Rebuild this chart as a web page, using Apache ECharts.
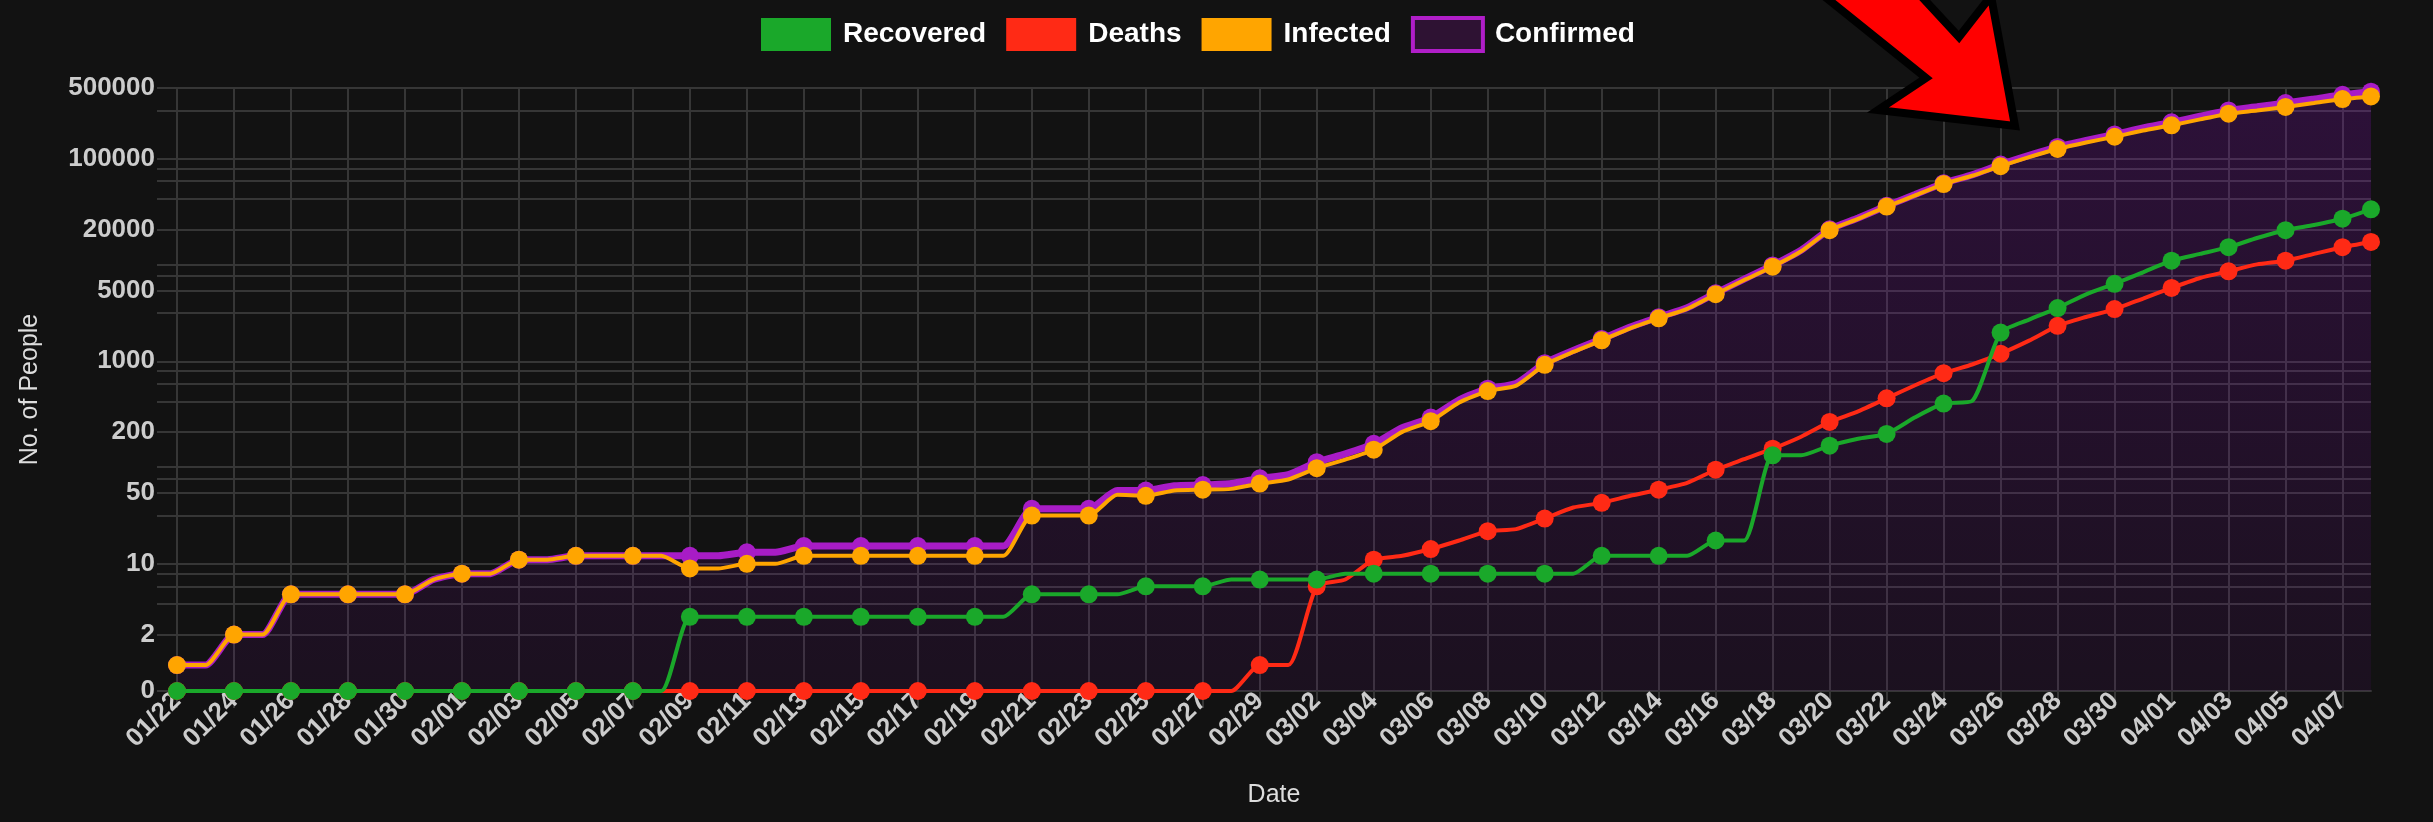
<!DOCTYPE html>
<html><head><meta charset="utf-8">
<script src="https://cdn.jsdelivr.net/npm/echarts@6/dist/echarts.min.js"></script>
<style>html,body{margin:0;padding:0;background:#121212;overflow:hidden}#c{width:2433px;height:822px}</style>
</head><body><div id="c"></div>
<script>
const dates = ['01/22','01/23','01/24','01/25','01/26','01/27','01/28','01/29','01/30','01/31',
'02/01','02/02','02/03','02/04','02/05','02/06','02/07','02/08','02/09','02/10','02/11','02/12','02/13','02/14','02/15','02/16','02/17','02/18','02/19','02/20','02/21','02/22','02/23','02/24','02/25','02/26','02/27','02/28','02/29',
'03/01','03/02','03/03','03/04','03/05','03/06','03/07','03/08','03/09','03/10','03/11','03/12','03/13','03/14','03/15','03/16','03/17','03/18','03/19','03/20','03/21','03/22','03/23','03/24','03/25','03/26','03/27','03/28','03/29','03/30','03/31',
'04/01','04/02','04/03','04/04','04/05','04/06','04/07','04/08'];

const recovered = [0,0,0,0,0,0,0,0,0,0,
0,0,0,0,0,0,0,0,3,3,3,3,3,3,3,3,3,3,3,3,5,5,5,5,6,6,6,7,7,
7,7,8,8,8,8,8,8,8,8,8,12,12,12,12,17,17,118,118,147,172,192,280,383,406,1920,2580,3360,4590,5830,7570,
9860,11500,13400,16500,19700,22200,25600,31700];

const deaths = [0,0,0,0,0,0,0,0,0,0,
0,0,0,0,0,0,0,0,0,0,0,0,0,0,0,0,0,0,0,0,0,0,0,0,0,0,0,0,1,
1,6,7,11,12,14,17,21,22,28,36,40,47,54,63,85,108,137,180,252,320,431,580,764,930,1190,1600,2240,2740,3280,4170,
5300,6650,7740,9060,9860,11500,13400,15100];

const infected = [1,1,2,2,5,5,5,5,5,7,
8,8,11,11,12,12,12,12,9,9,10,10,12,12,12,12,12,12,12,12,30,30,30,48,47,53,54,55,62,
68,88,107,134,201,256,392,508,575,923,1237,1611,2120,2661,3300,4600,6350,8600,12200,19700,25500,33700,43500,56300,68000,84500,104000,125000,145000,165000,190000,
214000,245000,279000,300000,325000,355000,389000,413000];

const confirmed = [1,1,2,2,5,5,5,5,5,7,
8,8,11,11,12,12,12,12,12,12,13,13,15,15,15,15,15,15,15,15,35,35,35,53,53,59,60,62,70,
76,101,122,153,221,278,417,537,605,959,1281,1663,2179,2727,3380,4700,6480,8850,12500,20100,26000,34300,44400,57400,69300,87600,108000,131000,152000,174000,202000,
229000,263000,300000,326000,355000,389000,428000,460000];

const yLabelTicks = [0, 2, 10, 50, 200, 1000, 5000, 20000, 100000, 500000];
const yGridTicks = [0, 2, 4, 6, 8, 10, 30, 50, 70, 90, 200, 400, 600, 800, 1000, 3000, 5000, 7000, 9000, 20000, 40000, 60000, 80000, 100000, 300000, 500000];

const ZERO_AT = 0.555;   // where the value 0 sits on the log axis (bottom edge)
const Y_MAX = 500000;
const toAxis = v => (v <= 0 ? ZERO_AT : v);
const tickToAxis = t => (t === 0 ? ZERO_AT * 1.0001 : (t >= Y_MAX ? Y_MAX * 0.9999999 : t));
const fmtTick = v => (v < 1 ? '0' : String(Number(v.toPrecision(3))));

const last = dates.length - 1;
const dotSize = (v, p) => (p.dataIndex % 2 === 0 || p.dataIndex === last) ? 18 : 0;

const GRID = '#363636';
const chart = echarts.init(document.getElementById('c'), null, {renderer: 'canvas'});

function lineSeries(name, data, color, z, width) {
  return {
    name, type: 'line', data: data.map(toAxis), z,
    smooth: 0.2, clip: false,
    symbol: 'circle', symbolSize: dotSize, showAllSymbol: true,
    lineStyle: {color, width: width || 4},
    itemStyle: {color}
  };
}

const confirmedSeries = lineSeries('Confirmed', confirmed, '#a81cc6', 2, 7);
confirmedSeries.areaStyle = {
  origin: 'start',
  color: new echarts.graphic.LinearGradient(0, 0, 0, 1, [
    {offset: 0, color: 'rgba(150,12,210,0.29)'},
    {offset: 1, color: 'rgba(140,0,190,0.11)'}
  ])
};

chart.setOption({
  backgroundColor: '#121212',
  animation: false,
  textStyle: {fontFamily: 'Liberation Sans, Arial, sans-serif'},
  legend: {
    left: 756, top: 11,
    itemWidth: 70, itemHeight: 33, itemGap: 20,
    icon: 'rect',
    textStyle: {color: '#ffffff', fontSize: 28, fontWeight: 'bold', padding: [0, 0, 0, 7]},
    data: [
      {name: 'Recovered', itemStyle: {color: '#1aa82a'}},
      {name: 'Deaths', itemStyle: {color: '#ff2a15'}},
      {name: 'Infected', itemStyle: {color: '#ffa500'}},
      {name: 'Confirmed', itemStyle: {color: '#2e1233', borderColor: '#b01ec8', borderWidth: 4}}
    ]
  },
  grid: {left: 177, right: 62, top: 88, bottom: 131, containLabel: false, outerBoundsMode: 'none'},
  xAxis: {
    type: 'category', data: dates, boundaryGap: false,
    name: 'Date', nameLocation: 'middle', nameGap: 92,
    nameTextStyle: {color: '#dddddd', fontSize: 25},
    axisLine: {show: true, lineStyle: {color: GRID, width: 2}},
    axisTick: {show: true, interval: 1, length: 17, lineStyle: {color: GRID, width: 2}},
    axisLabel: {interval: 1, rotate: 45, color: '#cccccc', fontSize: 26, fontWeight: 'bold', margin: 6},
    splitLine: {show: true, interval: 1, lineStyle: {color: GRID, width: 2}}
  },
  yAxis: {
    type: 'log', logBase: 10, min: ZERO_AT, max: Y_MAX,
    name: 'No. of People', nameLocation: 'middle', nameGap: 134, nameRotate: 90,
    nameTextStyle: {color: '#dddddd', fontSize: 25},
    axisLine: {show: true, lineStyle: {color: GRID, width: 2}},
    axisTick: {show: true, length: 20, customValues: yGridTicks.map(tickToAxis), lineStyle: {color: GRID, width: 2}},
    axisLabel: {
      customValues: yLabelTicks.map(tickToAxis), color: '#cccccc', fontSize: 26, fontWeight: 'bold', margin: 22,
      formatter: fmtTick
    },
    splitLine: {show: true, lineStyle: {color: GRID, width: 2}}
  },
  series: [
    lineSeries('Recovered', recovered, '#1aa82a', 5),
    lineSeries('Deaths', deaths, '#ff2a15', 4),
    lineSeries('Infected', infected, '#ffa500', 3),
    confirmedSeries
  ],
  graphic: [{
    type: 'polygon', z: 100,
    shape: {points: [[1824, -4], [1926, 78], [1878, 110], [2015, 126], [1991, -4], [1959, 37], [1921, -4]]},
    style: {fill: '#ff0000', stroke: '#000000', lineWidth: 8, lineJoin: 'miter'}
  }]
});
</script></body></html>
